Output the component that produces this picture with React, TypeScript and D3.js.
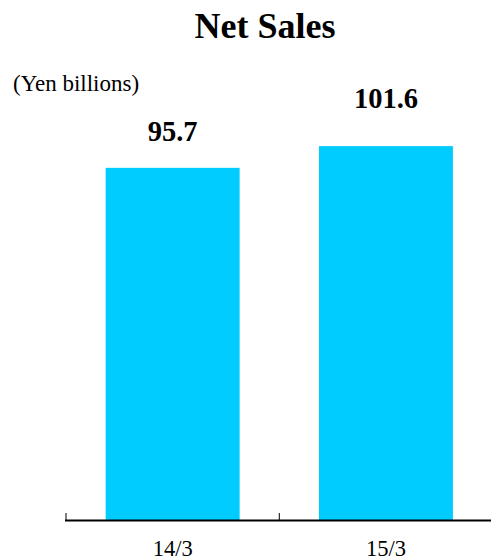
import React from "react";
import * as d3 from "d3";

const categories = ["14/3", "15/3"];
const values = [95.7, 101.6];
const valueLabels = ["95.7", "101.6"];
const title = "Net Sales";
const unitLabel = "(Yen billions)";

const W = 491;
const H = 559;
const labelGaps = [26.6, 38];

export default function App() {
  const x = d3
    .scaleBand<string>()
    .domain(categories)
    .range([66, 492.6])
    .paddingInner(0.372)
    .paddingOuter(0.186);
  const y = d3.scaleLinear().domain([0, 120]).range([520.5, 78.3]);
  const half = (x.step() - x.bandwidth()) / 2;
  const font = '"Liberation Serif", "Times New Roman", serif';

  return (
    <svg
      width={W}
      height={H}
      style={{ position: "absolute", left: 0, top: 0, background: "#fff" }}
      fontFamily={font}
    >
      <rect x={0} y={0} width={W} height={H} fill="#fff" />
      <text x={265} y={38} textAnchor="middle" fontSize={36} fontWeight="bold" fill="#000">
        {title}
      </text>
      <text x={13} y={91} fontSize={23} fill="#000">
        {unitLabel}
      </text>
      {categories.map((c, i) => (
        <g key={c}>
          <rect
            x={x(c)!}
            y={y(values[i])}
            width={x.bandwidth()}
            height={y(0) - y(values[i])}
            fill="#00CCFF"
          />
          <text
            x={x(c)! + x.bandwidth() / 2}
            y={y(values[i]) - labelGaps[i]}
            textAnchor="middle"
            fontSize={28.5}
            fontWeight="bold"
            fill="#000"
          >
            {valueLabels[i]}
          </text>
          <text
            x={x(c)! + x.bandwidth() / 2}
            y={556}
            textAnchor="middle"
            fontSize={22.5}
            fill="#000"
          >
            {c}
          </text>
          <line
            x1={x(c)! - half}
            x2={x(c)! - half}
            y1={513}
            y2={520.5}
            stroke="#000"
            strokeWidth={1}
          />
        </g>
      ))}
      <line x1={65} x2={W} y1={y(0)} y2={y(0)} stroke="#000" strokeWidth={2} />
    </svg>
  );
}
